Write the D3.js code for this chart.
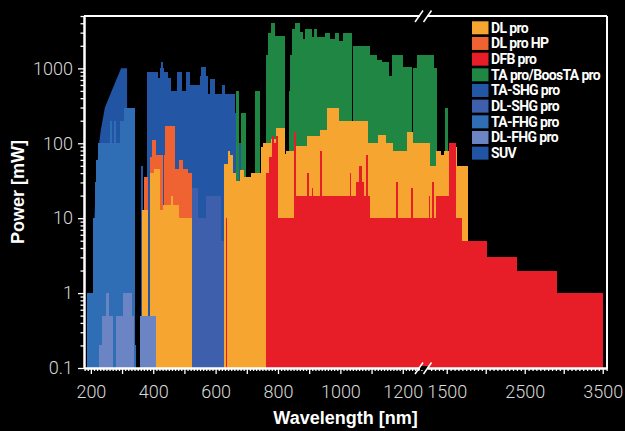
<!DOCTYPE html>
<html>
<head>
<meta charset="utf-8">
<script src="https://cdn.jsdelivr.net/npm/d3@7"></script>
<style>
  html, body { margin: 0; padding: 0; background: #000; }
  svg { display: block; }
</style>
</head>
<body>
<div id="container"></div>
<script>
/* CONSTANTS AND GLOBALS */
const width = 625,
  height = 431,
  margin = { top: 16, bottom: 63, left: 84, right: 18 };

/* DATA: [start nm, end nm, power mW] */
const suvCurve = [[207, 0.1], [208, 3], [211, 9], [214, 18], [218, 35], [225, 90], [232, 150],
  [245, 300], [265, 480], [280, 680], [297, 1000], [316, 1000], [316, 0.1]];

const taFhgPro = [[189, 208, 1], [208, 212, 10], [212, 216, 30], [216, 222, 60], [222, 262, 100],
  [262, 268, 200], [268, 273, 100], [273, 281, 200], [281, 294, 100], [294, 305, 200],
  [305, 340, 300], [340, 346, 0.2]];

const taShgPro = [[362, 368, 50], [379, 415, 900], [415, 421, 750], [421, 424, 1000], [424, 432, 1200],
  [432, 436, 1000], [436, 447, 900], [447, 456, 750], [456, 475, 500], [475, 493, 900],
  [493, 504, 500], [504, 518, 900], [518, 550, 600], [550, 553, 800], [553, 570, 1050],
  [570, 574, 800], [574, 582, 460], [582, 598, 730], [598, 620, 460], [620, 630, 600],
  [630, 662, 460], [662, 671, 250], [671, 680, 100]];

const dlShgPro = [[524, 542, 25], [542, 568, 10], [568, 618, 20], [618, 626, 5]];

const taPro = [[666, 674, 500], [682, 698, 250], [727, 741, 500], [760, 769, 1500], [769, 778, 3000],
  [778, 791, 4000], [791, 822, 2700], [822, 824, 2300], [834, 838, 500], [838, 845, 1500],
  [845, 853, 3400], [853, 869, 4000], [869, 880, 3100], [880, 886, 2500], [886, 910, 3400],
  [910, 916, 2600], [916, 926, 3400], [926, 951, 2600], [951, 967, 3000], [967, 983, 2500],
  [983, 994, 3000], [996, 1010, 2300], [1010, 1036, 3000], [1040, 1095, 2000], [1095, 1117, 1500],
  [1117, 1133, 1300], [1133, 1155, 1200], [1155, 1165, 780], [1165, 1200, 1500], [1200, 1231, 1050],
  [1234, 1245, 1000], [1245, 1340, 1500], [1340, 1372, 1000], [1478, 1521, 300]];

const dlProHp = [[370, 383, 35], [391, 397, 66], [397, 410, 110], [410, 431, 70], [433, 439, 70],
  [439, 469, 170], [469, 483, 45], [483, 497, 60], [497, 510, 46], [510, 525, 40]];

const dlPro = [[363, 383, 13], [391, 404, 40], [404, 421, 46], [421, 430, 13], [432, 456, 15],
  [456, 463, 20], [463, 482, 15], [482, 498, 10], [500, 525, 10], [627, 641, 53], [641, 647, 80],
  [647, 655, 70], [655, 665, 40], [665, 679, 31], [679, 692, 44], [692, 712, 36], [712, 744, 40],
  [744, 752, 88], [752, 776, 100], [776, 795, 115], [795, 821, 160], [821, 825, 72], [825, 857, 80],
  [857, 893, 92], [893, 936, 125], [936, 957, 150], [957, 994, 300], [994, 1090, 200],
  [1090, 1122, 100], [1122, 1146, 130], [1146, 1170, 100], [1170, 1213, 80], [1213, 1234, 140],
  [1234, 1287, 100], [1287, 1363, 50], [1363, 1423, 80], [1423, 1470, 70], [1470, 1533, 80],
  [1533, 1628, 90], [1628, 1777, 50]];

const dfbPro = [[632, 637, 10], [762, 772, 40], [772, 780, 65], [780, 788, 125], [788, 794, 100],
  [794, 800, 125], [800, 850, 10], [850, 859, 140], [859, 892, 20], [892, 898, 40], [898, 908, 20],
  [908, 913, 25], [913, 935, 20], [935, 940, 80], [940, 1031, 20], [1031, 1035, 40], [1035, 1050, 20],
  [1050, 1060, 30], [1060, 1070, 50], [1070, 1076, 30], [1076, 1083, 20], [1083, 1089, 70],
  [1089, 1095, 20], [1095, 1178, 10], [1178, 1185, 30], [1185, 1228, 10], [1228, 1234, 25],
  [1234, 1283, 10], [1283, 1290, 20], [1290, 1312, 10], [1312, 1337, 30], [1337, 1363, 10],
  [1363, 1533, 20], [1533, 1620, 100], [1620, 1692, 10], [1692, 2013, 5], [2013, 2405, 3],
  [2405, 2910, 2], [2910, 3508, 1]];

const dlFhgPro = [[227, 237, 0.2], [235, 249, 0.5], [249, 257, 1], [257, 271, 0.5], [281, 303, 0.5],
  [303, 332, 1], [332, 339, 0.5], [356, 410, 0.5]];

// legend order
const productNames = ["DL pro", "DL pro HP", "DFB pro", "TA pro/BoosTA pro", "TA-SHG pro",
  "DL-SHG pro", "TA-FHG pro", "DL-FHG pro", "SUV"];
const productColors = ["#F7A531", "#EE6331", "#E71E27", "#1F8643", "#2356A5",
  "#3E5FAC", "#2F6DB5", "#6B84C4", "#2254A4"];

// ticks
const xMajorTicks = [200, 300, 400, 500, 600, 700, 800, 900, 1000, 1100, 1200, 1500, 2000, 2500, 3000, 3500];
const xLabelTicks = [200, 400, 600, 800, 1000, 1200, 1500, 2500, 3500];
const yMajorTicks = [0.1, 1, 10, 100, 1000];
const yMinorTicks = [0.2, 0.3, 0.4, 0.5, 0.6, 0.7, 0.8, 0.9, 2, 3, 4, 5, 6, 7, 8, 9,
  20, 30, 40, 50, 60, 70, 80, 90, 200, 300, 400, 500, 600, 700, 800, 900, 2000, 3000, 4000, 5000];
const xMinorTicks = d3.range(180, 1261, 10).concat(d3.range(1300, 3551, 50))
  .filter(v => !xMajorTicks.includes(v));

/* SCALES: broken x axis (linear below the break, compressed above) */
const x = d3.scaleLinear()
  .domain([178, 1288, 3555])
  .range([margin.left, 430.2, width - margin.right]);

const y = d3.scaleLog()
  .domain([0.1, 5000])
  .range([height - margin.bottom, margin.top]);

/* SVG */
const svg = d3.select("#container")
  .append("svg")
  .attr("width", width)
  .attr("height", height)
  .style("background", "#000");

svg.append("rect")
  .attr("width", width).attr("height", height).attr("fill", "#000");

// DRAW PRODUCT BARS (back to front)
const plot = svg.append("g");

plot.append("path")
  .datum(suvCurve)
  .attr("fill", productColors[8])
  .attr("d", d3.area().x(d => x(d[0])).y0(y(0.1)).y1(d => y(d[1])));

const layers = [
  [taFhgPro, productColors[6]],
  [taShgPro, productColors[4]],
  [dlShgPro, productColors[5]],
  [taPro, productColors[3]],
  [dlProHp, productColors[1]],
  [dlPro, productColors[0]],
  [dfbPro, productColors[2]],
  [dlFhgPro, productColors[7]]
];

layers.forEach(([data, color]) => {
  plot.append("g")
    .attr("shape-rendering", "crispEdges")
    .selectAll("rect")
    .data(data)
    .join("rect")
    .attr("x", d => x(d[0]))
    .attr("width", d => x(d[1]) - x(d[0]))
    .attr("y", d => y(d[2]))
    .attr("height", d => y(0.1) - y(d[2]))
    .attr("fill", color);
});

// AXES
const axisColor = "#fff";
const labelFont = "Roboto, 'Liberation Sans', sans-serif";

svg.append("g")
  .attr("transform", `translate(0, ${height - margin.bottom})`)
  .call(d3.axisBottom(x).tickValues(xMajorTicks).tickSize(6).tickPadding(11).tickSizeOuter(0)
    .tickFormat(d => xLabelTicks.includes(d) ? d : ""));

svg.append("g")
  .attr("transform", `translate(0, ${height - margin.bottom})`)
  .call(d3.axisBottom(x).tickValues(xMinorTicks).tickSize(3).tickFormat("").tickSizeOuter(0));

svg.append("g")
  .attr("transform", `translate(${margin.left}, 0)`)
  .call(d3.axisLeft(y).tickValues(yMajorTicks).tickSize(6).tickPadding(5).tickSizeOuter(0)
    .tickFormat(d => d));

svg.append("g")
  .attr("transform", `translate(${margin.left}, 0)`)
  .call(d3.axisLeft(y).tickValues(yMinorTicks).tickSize(3.5).tickFormat("").tickSizeOuter(0));

svg.selectAll(".domain, .tick line")
  .attr("stroke", axisColor)
  .attr("stroke-width", 1.3);
svg.selectAll(".domain").attr("stroke-width", 2);

svg.selectAll(".tick text")
  .attr("fill", "#d9d9d9")
  .style("font-family", labelFont)
  .style("font-weight", 300)
  .style("font-size", "18px");

// frame lines on top and right
svg.append("line")
  .attr("x1", margin.left).attr("x2", width - margin.right)
  .attr("y1", margin.top).attr("y2", margin.top)
  .attr("stroke", axisColor).attr("stroke-width", 2);
svg.append("line")
  .attr("x1", width - margin.right).attr("x2", width - margin.right)
  .attr("y1", margin.top).attr("y2", height - margin.bottom)
  .attr("stroke", axisColor).attr("stroke-width", 2);

// axis break marks
[margin.top, height - margin.bottom].forEach(yy => {
  svg.append("rect")
    .attr("x", 420).attr("y", yy - 2).attr("width", 7.5).attr("height", 4)
    .attr("fill", "#000");
  [415, 423.5].forEach(bx => {
    svg.append("line")
      .attr("x1", bx).attr("y1", yy + 6)
      .attr("x2", bx + 8).attr("y2", yy - 5.5)
      .attr("stroke", axisColor).attr("stroke-width", 1.5);
  });
});

// AXIS TITLES
svg.append("text")
  .attr("x", (margin.left + width - margin.right) / 2)
  .attr("y", 424)
  .attr("text-anchor", "middle")
  .attr("fill", "#fff")
  .style("font-family", "'Liberation Sans', Arial, sans-serif")
  .style("font-weight", 700)
  .style("font-size", "18px")
  .text("Wavelength [nm]");

svg.append("text")
  .attr("transform", `translate(24, ${(margin.top + height - margin.bottom) / 2}) rotate(-90)`)
  .attr("text-anchor", "middle")
  .attr("fill", "#fff")
  .style("font-family", "'Liberation Sans', Arial, sans-serif")
  .style("font-weight", 700)
  .style("font-size", "18px")
  .text("Power [mW]");

// LEGEND
const legend = svg.append("g")
  .attr("transform", "translate(472, 21.3)");

const legendRows = legend.selectAll("g")
  .data(productNames)
  .join("g")
  .attr("transform", (d, i) => `translate(0, ${i * 15.67})`);

legendRows.append("rect")
  .attr("width", 16.5)
  .attr("height", 13)
  .attr("fill", (d, i) => productColors[i]);

legendRows.append("text")
  .attr("x", 19)
  .attr("y", 11.3)
  .attr("fill", "#fff")
  .style("font-family", "Roboto, sans-serif")
  .style("font-weight", 700)
  .style("font-size", "14px")
  .style("letter-spacing", "-0.65px")
  .text(d => d);
</script>
</body>
</html>
